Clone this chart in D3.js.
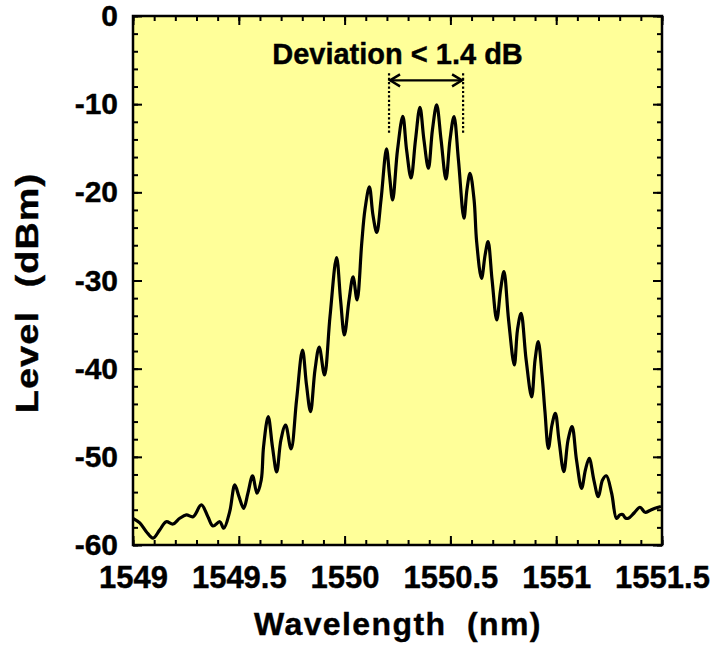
<!DOCTYPE html>
<html>
<head>
<meta charset="utf-8">
<script src="https://cdn.jsdelivr.net/npm/d3@7"></script>
<style>
  body { margin: 0; background: #fff; }
  svg text { font-family: Arial, "Liberation Sans", sans-serif; font-weight: bold; fill: #000; white-space: pre; stroke: #000; stroke-width: 0.4px; }
</style>
</head>
<body>
<div id="chart"></div>
<script>
const width = 718;
const height = 650;
const margin = { top: 16, right: 56, bottom: 105, left: 133 };

// spectrum trace
const wavelength = [
  1549.000, 1549.032, 1549.063, 1549.095, 1549.126, 1549.157, 1549.189, 1549.221, 1549.252, 1549.284,
  1549.323, 1549.354, 1549.378, 1549.410, 1549.429, 1549.457, 1549.481, 1549.501, 1549.523, 1549.543,
  1549.565, 1549.586, 1549.606, 1549.617, 1549.639, 1549.659, 1549.679, 1549.699, 1549.721, 1549.747,
  1549.773, 1549.801, 1549.820, 1549.839, 1549.860, 1549.880, 1549.905, 1549.931, 1549.962, 1549.981,
  1549.999, 1550.021, 1550.040, 1550.059, 1550.081, 1550.096, 1550.117, 1550.134, 1550.152, 1550.172,
  1550.198, 1550.212, 1550.227, 1550.250, 1550.275, 1550.293, 1550.314, 1550.335, 1550.356, 1550.375,
  1550.396, 1550.415, 1550.435, 1550.456, 1550.479, 1550.498, 1550.517, 1550.538, 1550.564, 1550.578,
  1550.593, 1550.612, 1550.624, 1550.647, 1550.664, 1550.678, 1550.697, 1550.719, 1550.737, 1550.753,
  1550.775, 1550.802, 1550.817, 1550.834, 1550.858, 1550.884, 1550.900, 1550.915, 1550.933, 1550.947,
  1550.963, 1550.980, 1550.996, 1551.013, 1551.036, 1551.056, 1551.075, 1551.096, 1551.120, 1551.138,
  1551.156, 1551.178, 1551.199, 1551.219, 1551.237, 1551.262, 1551.285, 1551.301, 1551.314, 1551.327,
  1551.341, 1551.368, 1551.396, 1551.420, 1551.443, 1551.467, 1551.495
];
const level = [
  -56.97, -57.50, -58.49, -59.23, -58.30, -57.36, -57.62, -56.97, -56.59, -56.79,
  -55.46, -56.79, -57.84, -57.36, -58.10, -56.22, -53.19, -54.52, -55.84, -54.13,
  -52.17, -54.13, -52.63, -48.85, -45.45, -48.85, -51.72, -48.09, -46.39, -49.11,
  -43.55, -37.88, -41.85, -44.88, -40.15, -37.54, -40.72, -34.10, -27.39, -32.21,
  -36.18, -32.21, -29.60, -32.21, -25.75, -22.00, -19.39, -22.57, -24.55, -20.87,
  -15.08, -18.03, -20.87, -15.20, -11.38, -15.20, -18.37, -14.06, -10.35, -14.06,
  -17.27, -12.93, -10.09, -14.06, -18.49, -14.06, -11.42, -16.33, -22.94, -19.73,
  -17.84, -20.87, -25.60, -29.75, -27.11, -25.60, -29.94, -34.48, -31.08, -29.00,
  -34.48, -39.58, -35.61, -33.72, -39.02, -43.21, -39.02, -36.94, -40.72, -44.91,
  -49.03, -46.39, -45.06, -48.09, -51.68, -48.09, -46.58, -50.36, -53.57, -51.49,
  -50.16, -52.63, -54.52, -52.63, -52.15, -54.13, -56.99, -56.59, -56.54, -56.94,
  -56.97, -56.37, -55.72, -56.29, -56.08, -55.84, -55.63
];

const xMajor = [1549, 1549.5, 1550, 1550.5, 1551, 1551.5];
const yMajor = [0, -10, -20, -30, -40, -50, -60];

// deviation marker: left / right wavelength, arrow level, dotted line span
const devX = [1550.21, 1550.56];
const devArrowY = -7.3;
const devTopY = -6.5;
const devBottomY = -13.5;
const devLabel = "Deviation < 1.4 dB";
const devLabelX = 1550.25;

const xMinor = d3.range(0, 26).map(i => 1549 + i * 0.1);
const yMinor = d3.range(0, 31).map(i => -i * 2);

const innerW = width - margin.left - margin.right;
const innerH = height - margin.top - margin.bottom;

const x = d3.scaleLinear().domain([1549, 1551.5]).range([0, innerW]);
const y = d3.scaleLinear().domain([-60, 0]).range([innerH, 0]);

const svg = d3.select("#chart")
  .append("svg")
  .attr("width", width)
  .attr("height", height);

const g = svg.append("g")
  .attr("transform", `translate(${margin.left},${margin.top})`);

g.append("rect")
  .attr("width", innerW)
  .attr("height", innerH)
  .attr("fill", "#ffff99");

function styleAxis(sel, size) {
  sel.select(".domain").remove();
  sel.selectAll(".tick line").attr("stroke", "#000").attr("stroke-width", 2);
  sel.selectAll(".tick text").attr("font-size", size || 31).attr("font-family", null);
}

const fmt = d => d3.format("")(+d.toFixed(1));

// bottom
g.append("g").attr("transform", `translate(0,${innerH})`)
  .call(d3.axisBottom(x).tickValues(xMinor).tickSize(-5).tickFormat(""))
  .call(styleAxis);
g.append("g").attr("transform", `translate(0,${innerH})`)
  .call(d3.axisBottom(x).tickValues(xMajor).tickSize(-9).tickPadding(21).tickFormat(fmt))
  .call(styleAxis);
// top
g.append("g")
  .call(d3.axisTop(x).tickValues(xMinor).tickSize(-5).tickFormat(""))
  .call(styleAxis);
g.append("g")
  .call(d3.axisTop(x).tickValues(xMajor).tickSize(-9).tickFormat(""))
  .call(styleAxis);
// left
g.append("g")
  .call(d3.axisLeft(y).tickValues(yMinor).tickSize(-5).tickFormat(""))
  .call(styleAxis);
g.append("g")
  .call(d3.axisLeft(y).tickValues(yMajor).tickSize(-9).tickPadding(15).tickFormat(d3.format("d")))
  .call(styleAxis, 30);
// right
g.append("g").attr("transform", `translate(${innerW},0)`)
  .call(d3.axisRight(y).tickValues(yMinor).tickSize(-5).tickFormat(""))
  .call(styleAxis);
g.append("g").attr("transform", `translate(${innerW},0)`)
  .call(d3.axisRight(y).tickValues(yMajor).tickSize(-9).tickFormat(""))
  .call(styleAxis);

// reference uses a plain hyphen for negatives
g.selectAll(".tick text").text(function() { return this.textContent.replace("\u2212", "-"); });

const points = wavelength.map((w, i) => [w, level[i]]);

const line = d3.line()
  .x(d => x(d[0]))
  .y(d => y(d[1]))
  .curve(d3.curveCatmullRom.alpha(0.5));

g.append("path")
  .datum(points)
  .attr("d", line)
  .attr("fill", "none")
  .attr("stroke", "#000")
  .attr("stroke-width", 3.2)
  .attr("stroke-linejoin", "round");

// deviation annotation
g.selectAll(".dev-dot")
  .data(devX)
  .enter()
  .append("line")
  .attr("x1", d => x(d))
  .attr("x2", d => x(d))
  .attr("y1", y(devTopY))
  .attr("y2", y(devBottomY))
  .attr("stroke", "#000")
  .attr("stroke-width", 2.2)
  .attr("stroke-dasharray", "2.2,2.2");

const ax1 = x(devX[0]), ax2 = x(devX[1]), ay = y(devArrowY);
g.append("line")
  .attr("x1", ax1 + 1).attr("x2", ax2 - 1)
  .attr("y1", ay).attr("y2", ay)
  .attr("stroke", "#000").attr("stroke-width", 2.4);
g.append("path")
  .attr("d", `M${ax1 + 11},${ay - 6}L${ax1 + 1},${ay}L${ax1 + 11},${ay + 6}M${ax2 - 11},${ay - 6}L${ax2 - 1},${ay}L${ax2 - 11},${ay + 6}`)
  .attr("fill", "none").attr("stroke", "#000").attr("stroke-width", 2.4);

g.append("text")
  .attr("x", x(devLabelX))
  .attr("y", 48)
  .attr("text-anchor", "middle")
  .attr("font-size", 29)
  .text(devLabel);

// frame
g.append("rect")
  .attr("width", innerW)
  .attr("height", innerH)
  .attr("fill", "none")
  .attr("stroke", "#000")
  .attr("stroke-width", 2.5);

// axis titles
svg.append("text")
  .attr("x", 398)
  .attr("y", 635)
  .attr("text-anchor", "middle")
  .attr("font-size", 32)
  .attr("letter-spacing", 1.4)
  .text("Wavelength  (nm)");

svg.append("text")
  .attr("transform", `translate(38,293) rotate(-90) scale(1.18,1)`)
  .attr("text-anchor", "middle")
  .attr("font-size", 32)
  .attr("letter-spacing", 1)
  .text("Level  (dBm)");
</script>
</body>
</html>
